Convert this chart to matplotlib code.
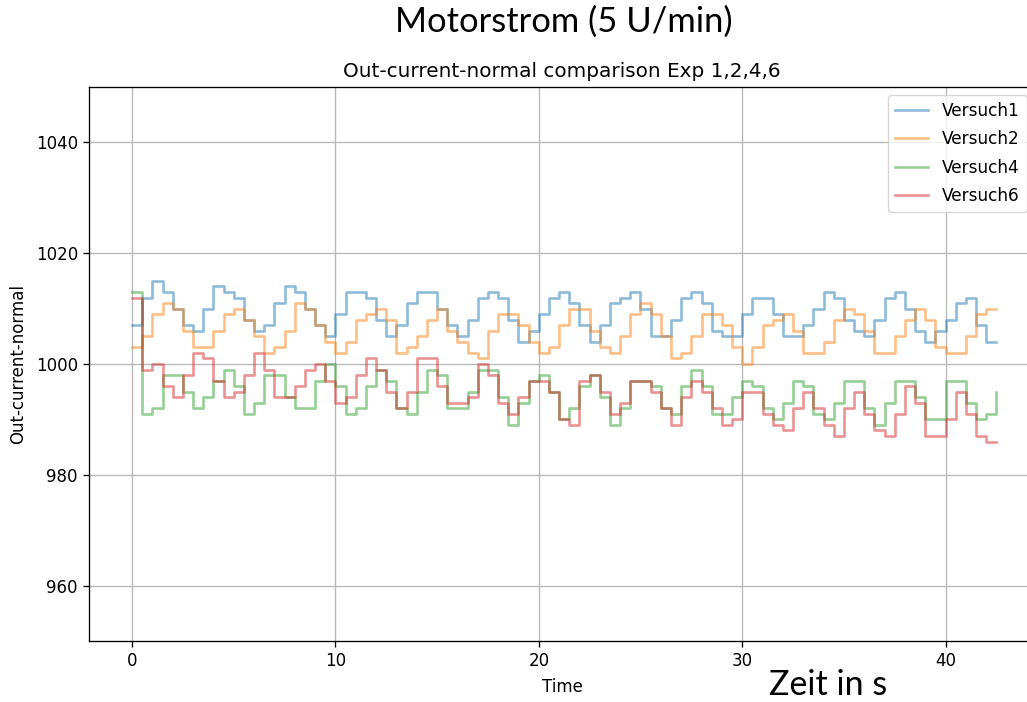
import numpy as np
import matplotlib
matplotlib.use("Agg")
import matplotlib.pyplot as plt

# Sample times in seconds (0.5 s steps)
time_s = np.arange(0, 43.0, 0.5)

versuch1 = [1007, 1012, 1015, 1013, 1010, 1007, 1006, 1010, 1014, 1013,
            1012, 1008, 1006, 1007, 1011, 1014, 1013, 1010, 1007, 1005,
            1009, 1013, 1013, 1012, 1008, 1005, 1007, 1011, 1013, 1013,
            1010, 1007, 1005, 1008, 1012, 1013, 1012, 1008, 1004, 1006,
            1009, 1012, 1013, 1011, 1007, 1004, 1007, 1011, 1012, 1013,
            1010, 1005, 1005, 1008, 1012, 1013, 1011, 1006, 1005, 1005,
            1009, 1012, 1012, 1009, 1005, 1005, 1007, 1010, 1013, 1012,
            1008, 1006, 1005, 1008, 1012, 1013, 1010, 1006, 1004, 1006,
            1008, 1011, 1012, 1007, 1004, 1004]

versuch2 = [1003, 1005, 1009, 1011, 1010, 1006, 1003, 1003, 1006, 1009,
            1010, 1008, 1005, 1002, 1003, 1006, 1011, 1010, 1007, 1004,
            1002, 1004, 1008, 1009, 1010, 1008, 1002, 1003, 1005, 1008,
            1010, 1006, 1004, 1002, 1001, 1006, 1009, 1009, 1007, 1004,
            1002, 1003, 1007, 1010, 1010, 1006, 1003, 1002, 1005, 1009,
            1011, 1009, 1005, 1001, 1002, 1005, 1009, 1009, 1007, 1003,
            1000, 1003, 1007, 1008, 1009, 1006, 1002, 1002, 1004, 1008,
            1010, 1009, 1006, 1002, 1002, 1005, 1008, 1010, 1008, 1003,
            1002, 1002, 1005, 1009, 1010, 1010]

versuch4 = [1013, 991, 992, 998, 998, 995, 992, 994, 997, 999,
            996, 991, 993, 998, 998, 994, 992, 992, 997, 1000,
            996, 991, 992, 996, 999, 997, 992, 991, 995, 999,
            998, 992, 992, 995, 999, 999, 994, 989, 993, 997,
            998, 995, 990, 992, 996, 998, 994, 989, 992, 997,
            997, 996, 992, 991, 996, 999, 996, 991, 991, 994,
            997, 996, 992, 990, 993, 997, 996, 991, 990, 993,
            997, 997, 992, 989, 993, 997, 997, 994, 990, 990,
            997, 997, 993, 990, 991, 995]

versuch6 = [1012, 999, 1000, 996, 994, 998, 1002, 1001, 997, 994,
            995, 998, 1002, 999, 994, 994, 996, 999, 1000, 997,
            993, 994, 998, 1001, 999, 995, 992, 995, 1001, 1001,
            996, 993, 993, 994, 1000, 998, 993, 991, 994, 997,
            997, 995, 990, 989, 997, 998, 995, 991, 993, 997,
            997, 995, 992, 989, 994, 997, 995, 992, 989, 990,
            995, 995, 991, 989, 988, 992, 995, 992, 989, 987,
            992, 995, 991, 988, 987, 991, 996, 993, 987, 987,
            990, 995, 991, 987, 986, 986]

series = [("Versuch1", versuch1, "C0"),
          ("Versuch2", versuch2, "C1"),
          ("Versuch4", versuch4, "C2"),
          ("Versuch6", versuch6, "C3")]

FS = 12.0

fig = plt.figure(figsize=(10.27, 7.02), dpi=100)
ax = fig.add_axes([89 / 1027, 1 - 641 / 702, 946 / 1027, 554 / 702])

for name, values, color in series:
    ax.plot(time_s, values, drawstyle="steps-post", color=color,
            alpha=0.5, linewidth=1.9, label=name)

ax.set_xlim(-2.12, 44.4)
ax.set_ylim(950, 1050)
ax.set_yticks([960, 980, 1000, 1020, 1040])
ax.set_xticks([0, 10, 20, 30, 40])
ax.grid(True, color="#b8b8b8", linewidth=0.95)
ax.tick_params(labelsize=FS, length=4.5, width=0.95)
for sp in ax.spines.values():
    sp.set_linewidth(0.95)

ax.set_title("Out-current-normal comparison Exp 1,2,4,6", fontsize=14.4, pad=7)
ax.set_xlabel("Time", fontsize=FS, labelpad=6)
ax.set_ylabel("Out-current-normal", fontsize=FS, labelpad=6)
ax.legend(loc="upper right", fontsize=12.2, borderaxespad=0.5,
          labelspacing=0.6)

fig.text(564 / 1027, 1 - 22 / 702, "Motorstrom (5 U/min)", family="Lato",
         fontsize=24.8, ha="center", va="center", color="black")
fig.text(828 / 1027, 1 - 685 / 702, "Zeit in s", family="Lato",
         fontsize=24.5, ha="center", va="center", color="black")

fig.savefig("out.png", dpi=100)
